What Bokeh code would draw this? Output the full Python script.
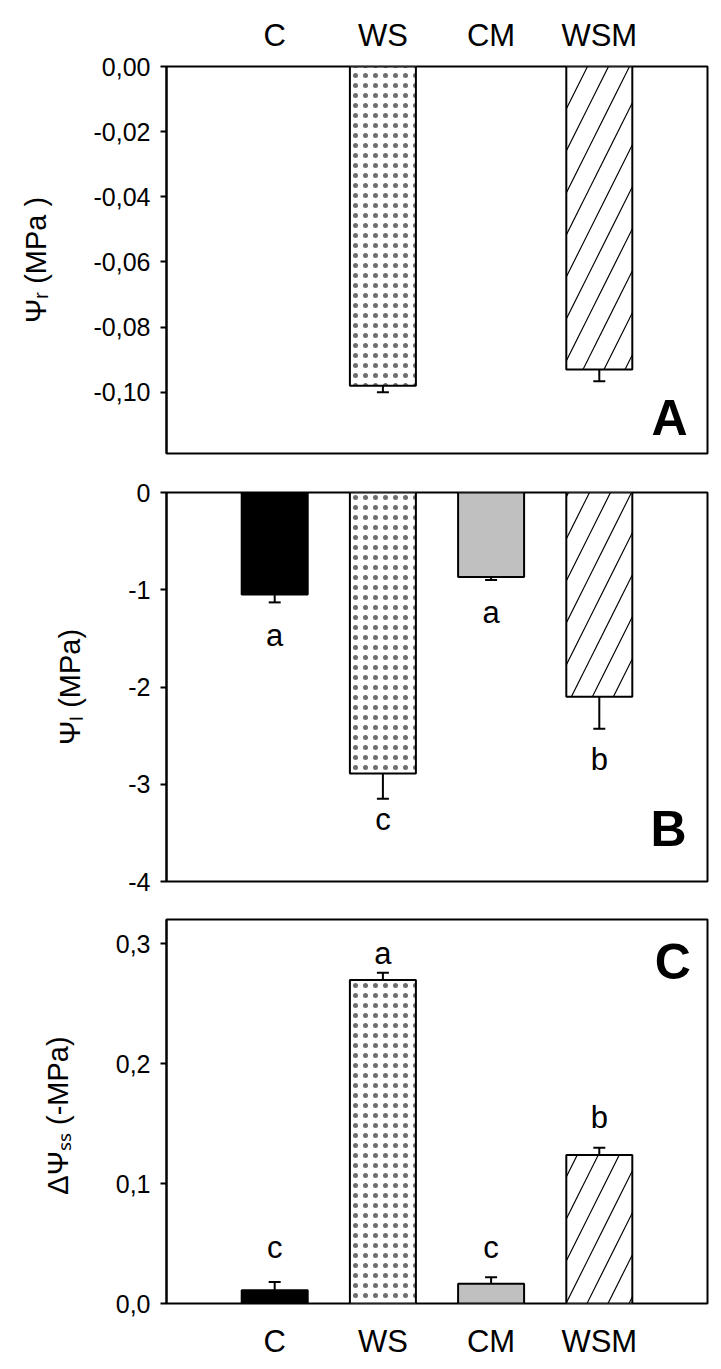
from bokeh.plotting import figure
from bokeh.layouts import column
from bokeh.models import Range1d, FixedTicker, ColumnDataSource, Label
from bokeh.embed import file_html
from bokeh.resources import INLINE
from bokeh.core.properties import value

# ---------------- data ----------------
categories = ["C", "WS", "CM", "WSM"]

# Panel A: root water potential (only water-stressed treatments measured)
psi_r_cats = ["WS", "WSM"]
psi_r = [-0.098, -0.093]
psi_r_err = [0.002, 0.0036]
ticks_a = [0.0, -0.02, -0.04, -0.06, -0.08, -0.10]
tick_labels_a = ["0,00", "-0,02", "-0,04", "-0,06", "-0,08", "-0,10"]

# Panel B: leaf water potential
psi_l = [-1.05, -2.89, -0.87, -2.10]
psi_l_err = [0.08, 0.26, 0.03, 0.33]
psi_l_letters = ["a", "c", "a", "b"]
psi_l_letter_y = [-1.467, -3.367, -1.237, -2.747]
ticks_b = [0, -1, -2, -3, -4]
tick_labels_b = ["0", "-1", "-2", "-3", "-4"]

# Panel C: soil-to-leaf gradient
dpsi = [0.011, 0.270, 0.0165, 0.124]
dpsi_err = [0.007, 0.006, 0.0055, 0.006]
dpsi_letters = ["c", "a", "c", "b"]
dpsi_letter_y = [0.047, 0.292, 0.047, 0.155]
ticks_c = [0.0, 0.1, 0.2, 0.3]
tick_labels_c = ["0,0", "0,1", "0,2", "0,3"]

# treatment styles
fills = {"C": "black", "WS": "white", "CM": "#c0c0c0", "WSM": "white"}
hatches = {"C": " ", "WS": ".", "CM": " ", "WSM": "/"}
hatch_scales = {"C": 10, "WS": 10, "CM": 10, "WSM": 42}
hatch_colors = {"C": "black", "WS": "#6e6e6e", "CM": "black", "WSM": "black"}
hatch_weights = {"C": 1, "WS": 1.5, "CM": 1, "WSM": 1.2}

FONT = "Liberation Sans"
W = 715
BAR_W = 0.61
CAP = 12


def xpos(cats):
    return [categories.index(c) + 1 for c in cats]


def make_fig(height, top, bottom, yr, xloc):
    p = figure(width=W, height=height, x_range=Range1d(0, 5), y_range=yr,
               output_backend="svg", toolbar_location=None,
               x_axis_location=xloc,
               min_border_left=166, min_border_right=8,
               min_border_top=top, min_border_bottom=bottom)
    p.grid.visible = False
    p.outline_line_color = "black"
    p.outline_line_width = 2
    p.background_fill_color = "white"
    p.border_fill_color = "white"
    ya = p.yaxis[0]
    ya.axis_line_width = 2
    ya.major_tick_line_width = 2
    ya.major_tick_out = 6
    ya.major_tick_in = 0
    ya.minor_tick_line_color = None
    ya.major_label_text_font = FONT
    ya.major_label_text_font_size = "25px"
    ya.major_label_text_color = "black"
    ya.major_label_standoff = 10
    ya.axis_label_text_font = FONT
    ya.axis_label_text_font_size = "29px"
    ya.axis_label_text_font_style = "normal"
    ya.axis_label_text_color = "black"
    ya.axis_label_standoff = 39
    xa = p.xaxis[0]
    xa.ticker = FixedTicker(ticks=xpos(categories))
    xa.major_label_overrides = {i + 1: c for i, c in enumerate(categories)}
    xa.major_tick_line_color = None
    xa.minor_tick_line_color = None
    xa.axis_line_color = None
    xa.major_label_text_font = FONT
    xa.major_label_text_font_size = "31px"
    xa.major_label_text_color = "black"
    xa.major_label_standoff = 8 if xloc == "above" else 14
    return p


def add_bars(p, cats, vals, errs):
    xs = xpos(cats)
    ends = [v + (e if v > 0 else -e) for v, e in zip(vals, errs)]
    src = ColumnDataSource(dict(
        x=xs, top=vals, end=ends,
        fill=[fills[c] for c in cats],
        hatch=[hatches[c] for c in cats],
        hscale=[hatch_scales[c] for c in cats],
        hcolor=[hatch_colors[c] for c in cats],
        hweight=[hatch_weights[c] for c in cats],
    ))
    p.segment(x0="x", x1="x", y0="top", y1="end", source=src,
              line_color="black", line_width=2)
    p.scatter(x="x", y="end", marker="dash", size=CAP, source=src,
              line_color="black", line_width=2)
    p.vbar(x="x", top="top", bottom=0, width=BAR_W, source=src,
           fill_color="fill", line_color="black", line_width=2,
           hatch_pattern="hatch", hatch_color="hcolor",
           hatch_scale="hscale", hatch_weight="hweight")


def add_letters(p, cats, letters, ys):
    src = ColumnDataSource(dict(x=xpos(cats), y=ys, t=letters))
    p.text(x="x", y="y", text="t", source=src, text_align="center",
           text_baseline="alphabetic", text_font=value(FONT),
           text_font_size="31px", text_color="black")


def panel_label(p, x, y, t):
    p.add_layout(Label(x=x, y=y, text=t, text_align="center",
                       text_baseline="alphabetic", text_font=FONT,
                       text_font_size="50px", text_font_style="bold",
                       text_color="black"))


# ---------------- Panel A ----------------
pA = make_fig(472, 66, 19, Range1d(-0.1188, 0.0), "above")
pA.yaxis[0].ticker = FixedTicker(ticks=ticks_a)
pA.yaxis[0].major_label_overrides = dict(zip(ticks_a, tick_labels_a))
pA.yaxis[0].axis_label = "Ψᵣ (MPa )"
add_bars(pA, psi_r_cats, psi_r, psi_r_err)
panel_label(pA, 4.65, -0.108, "A")

# ---------------- Panel B ----------------
pB = make_fig(428, 20, 19, Range1d(-4, 0), "below")
pB.xaxis.visible = False
pB.yaxis[0].ticker = FixedTicker(ticks=ticks_b)
pB.yaxis[0].major_label_overrides = dict(zip(ticks_b, tick_labels_b))
pB.yaxis[0].axis_label = "Ψₗ (MPa)"
add_bars(pB, categories, psi_l, psi_l_err)
add_letters(pB, categories, psi_l_letters, psi_l_letter_y)
panel_label(pB, 4.64, -3.46, "B")

# ---------------- Panel C ----------------
pC = make_fig(461, 19, 53, Range1d(0.0, 0.3204), "below")
pC.yaxis[0].ticker = FixedTicker(ticks=ticks_c)
pC.yaxis[0].major_label_overrides = dict(zip(ticks_c, tick_labels_c))
pC.yaxis[0].axis_label = "ΔΨₛₛ  (-MPa)"
add_bars(pC, categories, dpsi, dpsi_err)
add_letters(pC, categories, dpsi_letters, dpsi_letter_y)
panel_label(pC, 4.68, 0.285, "C")

layout = column(pA, pB, pC)
open("out.html", "w").write(file_html(layout, INLINE))
